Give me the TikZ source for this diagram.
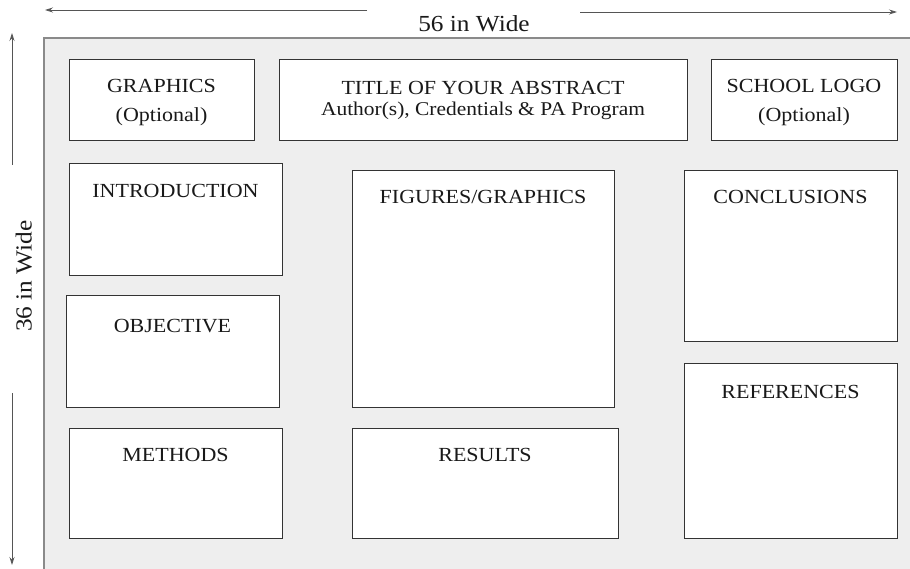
\documentclass[tikz,border=0pt]{standalone}
\usepackage{fontspec}
\setmainfont{Liberation Serif}[FakeStretch=1.1]
\usetikzlibrary{positioning, arrows.meta}

\definecolor{boardgray}{HTML}{EEEEEE}
\definecolor{edgegray}{HTML}{8A8A8A}
\definecolor{linegray}{HTML}{555555}

\tikzset{
    section/.style={draw=black!80, fill=white, line width=1pt, inner sep=0pt},
    heading/.style={font=\fontsize{20}{24}\selectfont, text=black!90, inner sep=0pt, text height=0.7em, text depth=0pt},
    dimline/.style={-{Stealth[length=8pt, width=5pt]}, draw=linegray, line width=0.8pt},
}

\begin{document}
\begin{tikzpicture}[x=1pt, y=-1pt]
            \useasboundingbox (0,0) rectangle (910,569);

            % poster board
            \fill[boardgray] (44,38) rectangle (915,575);
            \draw[edgegray, line width=1.5pt] (915,38) -- (44,38) -- (44,575);

            % size markers
            \coordinate (wl) at (367,10);
            \coordinate (wlend) at (45,10);
            \coordinate (wr) at (580,12);
            \coordinate (wrend) at (897,12);
            \coordinate (hu) at (12,165);
            \coordinate (huend) at (12,33);
            \coordinate (hd) at (12,393);
            \coordinate (hdend) at (12,565);

            \draw[dimline] (wl) -- (wlend);
            \draw[dimline] (wr) -- (wrend);
            \draw[dimline] (hu) -- (huend);
            \draw[dimline] (hd) -- (hdend);

            \node[heading, anchor=center, font=\fontsize{23}{26}\selectfont] (width) at (474,28) {56 in Wide};
            \node[heading, anchor=center, rotate=90, font=\fontsize{23}{26}\selectfont] (height) at (28,276) {36 in Wide};

            % top row
            \node[section, minimum width=185, minimum height=81] (graphics) at (161.5,100.5) {};
            \node[section, minimum width=408, minimum height=81] (title) at (483,100.5) {};
            \node[section, minimum width=186, minimum height=81] (logo) at (804,100.5) {};

            \node[heading, align=center, text height=, text depth=] (graphics-t) at ([yshift=-2pt]graphics.center) {GRAPHICS\\[5pt](Optional)};
            \node[heading, align=center, text height=, text depth=] (title-t) at (title.center)
                {TITLE OF YOUR ABSTRACT\\[-3pt]{\fontsize{19.5}{22}\selectfont Author(s), Credentials \& PA Program}};
            \node[heading, align=center, text height=, text depth=] (logo-t) at ([yshift=-2pt]logo.center) {SCHOOL LOGO\\[5pt](Optional)};

            % left column
            \node[section, minimum width=213, minimum height=112] (intro) at (175.5,220) {};
            \node[section, minimum width=213, minimum height=111] (objective) at (172.5,351.5) {};
            \node[section, minimum width=213, minimum height=110] (methods) at (175.5,483) {};

            % middle column
            \node[section, minimum width=262, minimum height=236] (figures) at (483,289) {};
            \node[section, minimum width=266, minimum height=110] (results) at (485,483) {};

            % right column
            \node[section, minimum width=213, minimum height=170] (conclusions) at (790.5,256) {};
            \node[section, minimum width=213, minimum height=175] (references) at (790.5,450.5) {};

            \node[heading] (intro-t) at ([yshift=-31pt]intro.north) {INTRODUCTION};
            \node[heading] (objective-t) at ([yshift=-33pt]objective.north) {OBJECTIVE};
            \node[heading] (methods-t) at ([yshift=-30pt]methods.north) {METHODS};
            \node[heading] (figures-t) at ([yshift=-30pt]figures.north) {FIGURES/GRAPHICS};
            \node[heading] (results-t) at ([yshift=-30pt]results.north) {RESULTS};
            \node[heading] (conclusions-t) at ([yshift=-30pt]conclusions.north) {CONCLUSIONS};
            \node[heading] (references-t) at ([yshift=-32pt]references.north) {REFERENCES};

        \end{tikzpicture}
\end{document}
